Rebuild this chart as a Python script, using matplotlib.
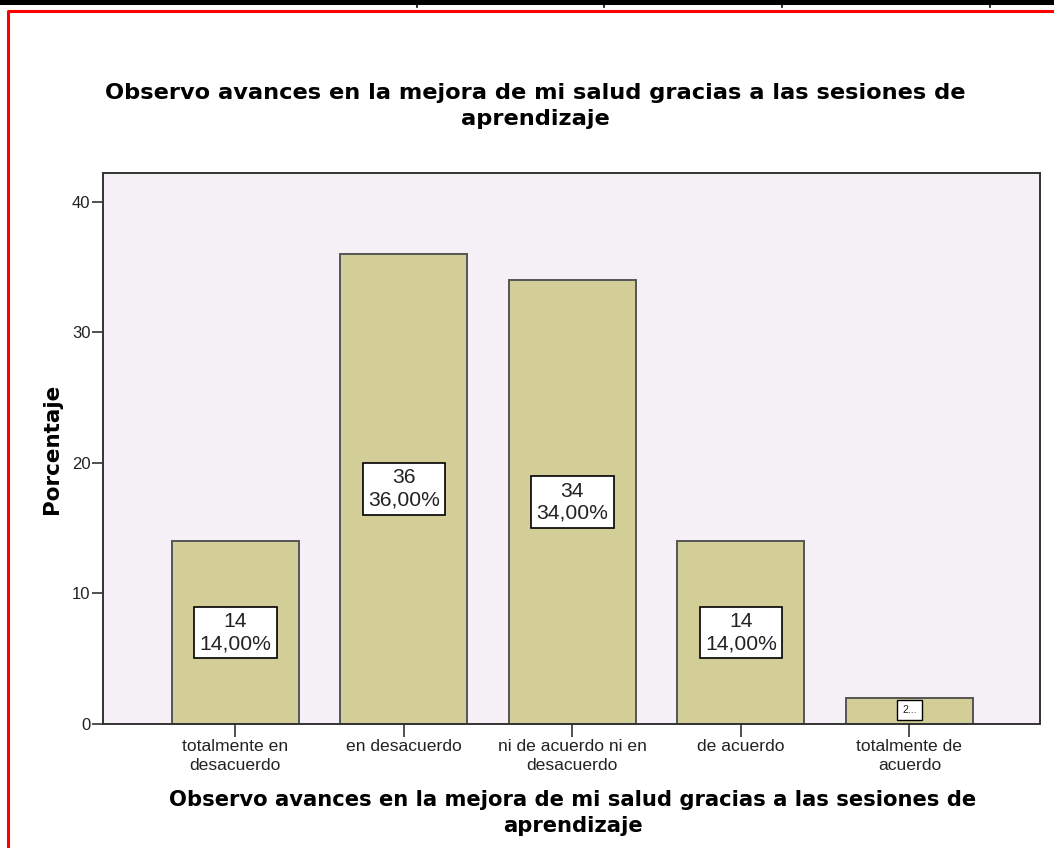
import matplotlib.pyplot as plt
from matplotlib.lines import Line2D
from matplotlib.patches import Rectangle

categories = ["totalmente en\ndesacuerdo", "en desacuerdo", "ni de acuerdo ni en\ndesacuerdo",
              "de acuerdo", "totalmente de\nacuerdo"]
counts = [14, 36, 34, 14, 2]
percents = [14.0, 36.0, 34.0, 14.0, 2.0]
yticks = [0, 10, 20, 30, 40]
title = "Observo avances en la mejora de mi salud gracias a las sesiones de\naprendizaje"

W, H = 1054, 848
fig = plt.figure(figsize=(W / 100, H / 100), dpi=100)

# page decorations (table border above, red frame)
fig.add_artist(Rectangle((0, 1 - 4.5 / H), 1, 4.5 / H, transform=fig.transFigure,
                         color="black", lw=0))
for xp in [417, 604, 782, 990]:
    fig.add_artist(Line2D([xp / W, xp / W], [1 - 4 / H, 1 - 6.5 / H],
                          transform=fig.transFigure, color="black", lw=1.2))
fig.add_artist(Line2D([7.5 / W, 7.5 / W, 1], [0, 1 - 10.5 / H, 1 - 10.5 / H],
                      transform=fig.transFigure, color="#ff0000", lw=2.2))

ax = fig.add_axes([103 / W, 1 - 724 / H, (1040 - 103) / W, (724 - 173) / H])
ax.set_facecolor("#f5f0f5")

x = list(range(len(categories)))
ax.bar(x, percents, width=0.755, color="#d3ce97", edgecolor="#555555", linewidth=1.4, zorder=2)

ax.set_xlim(-0.785, 4.775)
ax.set_ylim(0, 42.2)
ax.set_yticks(yticks)
ax.set_xticks(x)
ax.set_xticklabels(categories, fontfamily="Liberation Sans", fontsize=12.6, linespacing=1.3,
                   color="#222222")
ax.tick_params(axis="y", labelsize=12, length=8, width=1.2, color="#333333", pad=1,
               labelcolor="#222222")
ax.tick_params(axis="x", length=9, width=1.2, color="#333333", pad=2)
for lbl in ax.get_yticklabels():
    lbl.set_fontfamily("Liberation Sans")
for s in ax.spines.values():
    s.set_color("#333333")
    s.set_linewidth(1.4)

for xi, c, p in zip(x, counts, percents):
    if p >= 5:
        ax.text(xi, p / 2, f"{c}\n{p:.2f}%".replace(".", ","), ha="center", va="center",
                fontfamily="Liberation Sans", fontsize=15.2, linespacing=1.2, zorder=3,
                color="#222222",
                bbox=dict(boxstyle="square,pad=0.25", fc="white", ec="black", lw=1.2))
    else:
        ax.text(xi, p / 2 + 0.05, f"{c}...", ha="center", va="center",
                fontfamily="Liberation Sans", fontsize=7.5, zorder=3, color="#222222",
                bbox=dict(boxstyle="square,pad=0.5", fc="white", ec="black", lw=1.0))

fig.text(535 / W, 1 - 106 / H, title, ha="center", va="center", fontsize=16.2,
         fontweight="bold", fontfamily="DejaVu Sans", linespacing=1.4)
fig.text(573 / W, 1 - 813 / H, title, ha="center", va="center", fontsize=15.2,
         fontweight="bold", fontfamily="DejaVu Sans", linespacing=1.35)
fig.text(52 / W, 1 - 449 / H, "Porcentaje", ha="center", va="center", rotation=90,
         fontsize=15.5, fontweight="bold", fontfamily="DejaVu Sans")

fig.savefig("out.png", dpi=100)
